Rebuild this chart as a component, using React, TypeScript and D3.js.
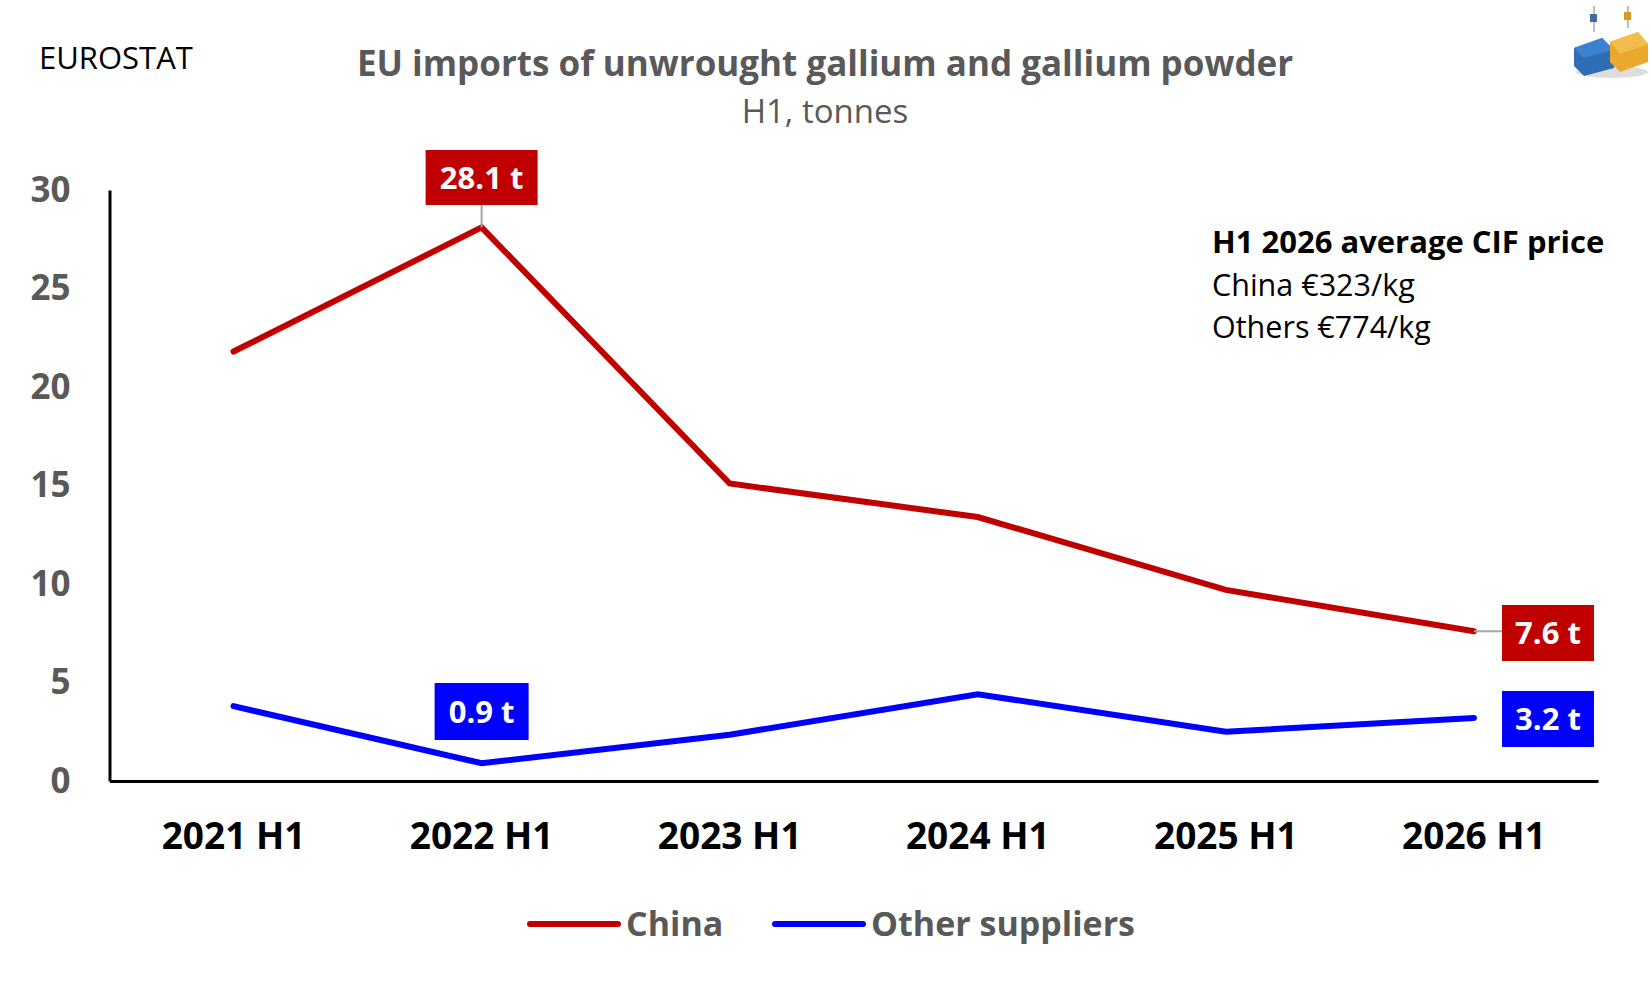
import { useRef, useEffect } from "react";
import * as d3 from "d3";

const periods = ["2021 H1", "2022 H1", "2023 H1", "2024 H1", "2025 H1", "2026 H1"];
const chinaValues = [21.8, 28.1, 15.1, 13.4, 9.7, 7.6];
const otherValues = [3.8, 0.9, 2.35, 4.4, 2.5, 3.2];
const yTicks = [0, 5, 10, 15, 20, 25, 30];
const priceNote = ["H1 2026 average CIF price", "China €323/kg", "Others €774/kg"];

const FONT = "'Open Sans', 'Noto Sans', sans-serif";
const RED = "#c00000";
const BLUE = "#0000ff";
const GREY = "#595959";

export default function App() {
  const svgRef = useRef<SVGSVGElement>(null);

  useEffect(() => {
    if (!svgRef.current) return;
    document.body.style.margin = "0";
    const width = 1650;
    const height = 990;
    const svg = d3.select(svgRef.current);
    svg.selectAll("*").remove();
    svg.attr("viewBox", `0 0 ${width} ${height}`).attr("font-family", FONT);

    const left = 109.5;
    const right = 1598;
    const top = 190;
    const bottom = 781;

    const x = d3.scaleBand<string>().domain(periods).range([left, right]);
    const cx = (p: string) => (x(p) ?? 0) + x.bandwidth() / 2;
    const y = d3.scaleLinear().domain([0, 30]).range([bottom, top]);

    // Header
    svg.append("text").attr("x", 39).attr("y", 69).attr("font-size", 31)
      .attr("fill", "#000").text("EUROSTAT");
    svg.append("text").attr("x", 825).attr("y", 76).attr("text-anchor", "middle")
      .attr("font-size", 35).attr("font-weight", 700).attr("fill", GREY)
      .text("EU imports of unwrought gallium and gallium powder");
    svg.append("text").attr("x", 825).attr("y", 123).attr("text-anchor", "middle")
      .attr("font-size", 33).attr("fill", GREY).text("H1, tonnes");

    // Logo: two hanging containers
    const logo = svg.append("g").attr("transform", "translate(1572,6)");
    logo.append("ellipse").attr("cx", 40).attr("cy", 66).attr("rx", 36).attr("ry", 6).attr("fill", "#ddd");
    logo.append("line").attr("x1", 22).attr("x2", 22).attr("y1", 0).attr("y2", 26).attr("stroke", "#aaa").attr("stroke-width", 1.5);
    logo.append("line").attr("x1", 56).attr("x2", 56).attr("y1", 0).attr("y2", 22).attr("stroke", "#aaa").attr("stroke-width", 1.5);
    logo.append("rect").attr("x", 18).attr("y", 8).attr("width", 7).attr("height", 8).attr("fill", "#3d6d9a");
    logo.append("rect").attr("x", 52).attr("y", 6).attr("width", 7).attr("height", 8).attr("fill", "#d99a22");
    logo.append("polygon").attr("points", "2,42 30,32 42,44 42,62 12,70 2,60").attr("fill", "#2f6db5");
    logo.append("polygon").attr("points", "2,42 30,32 42,44 12,52").attr("fill", "#3b82d0");
    logo.append("polygon").attr("points", "38,36 66,26 76,38 76,56 48,66 38,56").attr("fill", "#e8a92c");
    logo.append("polygon").attr("points", "38,36 66,26 76,38 48,48").attr("fill", "#f2bd4a");

    // Y axis
    const yAxis = svg.append("g").attr("transform", `translate(${left},0)`)
      .call(d3.axisLeft(y).tickValues(yTicks).tickSize(0).tickPadding(39));
    yAxis.select(".domain").attr("stroke", "#000").attr("stroke-width", 3);
    yAxis.selectAll("text").attr("font-family", FONT).attr("font-size", 35)
      .attr("font-weight", 700).attr("fill", GREY);

    // X axis
    const xAxis = svg.append("g").attr("transform", `translate(0,${bottom})`)
      .call(d3.axisBottom(x).tickSize(0).tickPadding(0));
    xAxis.select(".domain").attr("stroke", "#000").attr("stroke-width", 3);
    xAxis.selectAll("text").attr("font-family", FONT).attr("font-size", 37)
      .attr("font-weight", 700).attr("fill", "#000").attr("dy", null).attr("y", 68);

    // Lines
    const line = d3.line<number>().x((_, i) => cx(periods[i])).y((d) => y(d));
    svg.append("path").datum(chinaValues).attr("d", line).attr("fill", "none")
      .attr("stroke", RED).attr("stroke-width", 6).attr("stroke-linecap", "round");
    svg.append("path").datum(otherValues).attr("d", line).attr("fill", "none")
      .attr("stroke", BLUE).attr("stroke-width", 6).attr("stroke-linecap", "round");

    // Data labels
    const label = (text: string, color: string, bx: number, by: number, w: number, h: number) => {
      svg.append("rect").attr("x", bx).attr("y", by).attr("width", w).attr("height", h).attr("fill", color);
      svg.append("text").attr("x", bx + w / 2).attr("y", by + h / 2 + 11).attr("text-anchor", "middle")
        .attr("font-size", 31).attr("font-weight", 700).attr("fill", "#fff").text(text);
    };
    const last = periods.length - 1;
    // leader lines
    svg.append("line").attr("x1", cx(periods[1])).attr("x2", cx(periods[1]))
      .attr("y1", 205).attr("y2", y(chinaValues[1])).attr("stroke", "#a6a6a6").attr("stroke-width", 2);
    svg.append("line").attr("x1", cx(periods[last])).attr("x2", 1502)
      .attr("y1", y(chinaValues[last])).attr("y2", y(chinaValues[last])).attr("stroke", "#a6a6a6").attr("stroke-width", 2);
    label(`${chinaValues[1]} t`, RED, cx(periods[1]) - 56, 150, 112, 55);
    label(`${otherValues[1]} t`, BLUE, cx(periods[1]) - 47, 683, 94, 57);
    label(`${chinaValues[last]} t`, RED, 1502, 605, 92, 56);
    label(`${otherValues[last]} t`, BLUE, 1502, 691, 92, 56);

    // Price note
    priceNote.forEach((t, i) => {
      svg.append("text").attr("x", 1212).attr("y", 253 + i * 42.5)
        .attr("font-size", i === 0 ? 31 : 30.5)
        .attr("font-weight", i === 0 ? 700 : 400).attr("fill", "#000").text(t);
    });

    // Legend
    const legend = [
      { name: "China", color: RED, x: 530 },
      { name: "Other suppliers", color: BLUE, x: 775 },
    ];
    legend.forEach((d) => {
      svg.append("line").attr("x1", d.x).attr("x2", d.x + 88).attr("y1", 924).attr("y2", 924)
        .attr("stroke", d.color).attr("stroke-width", 6).attr("stroke-linecap", "round");
      svg.append("text").attr("x", d.x + 96).attr("y", 936).attr("font-size", 34)
        .attr("font-weight", 700).attr("fill", GREY).text(d.name);
    });
  }, []);

  return (
    <svg ref={svgRef} width={1650} height={990}
      style={{ position: "absolute", left: 0, top: 0, display: "block", background: "#fff" }} />
  );
}
